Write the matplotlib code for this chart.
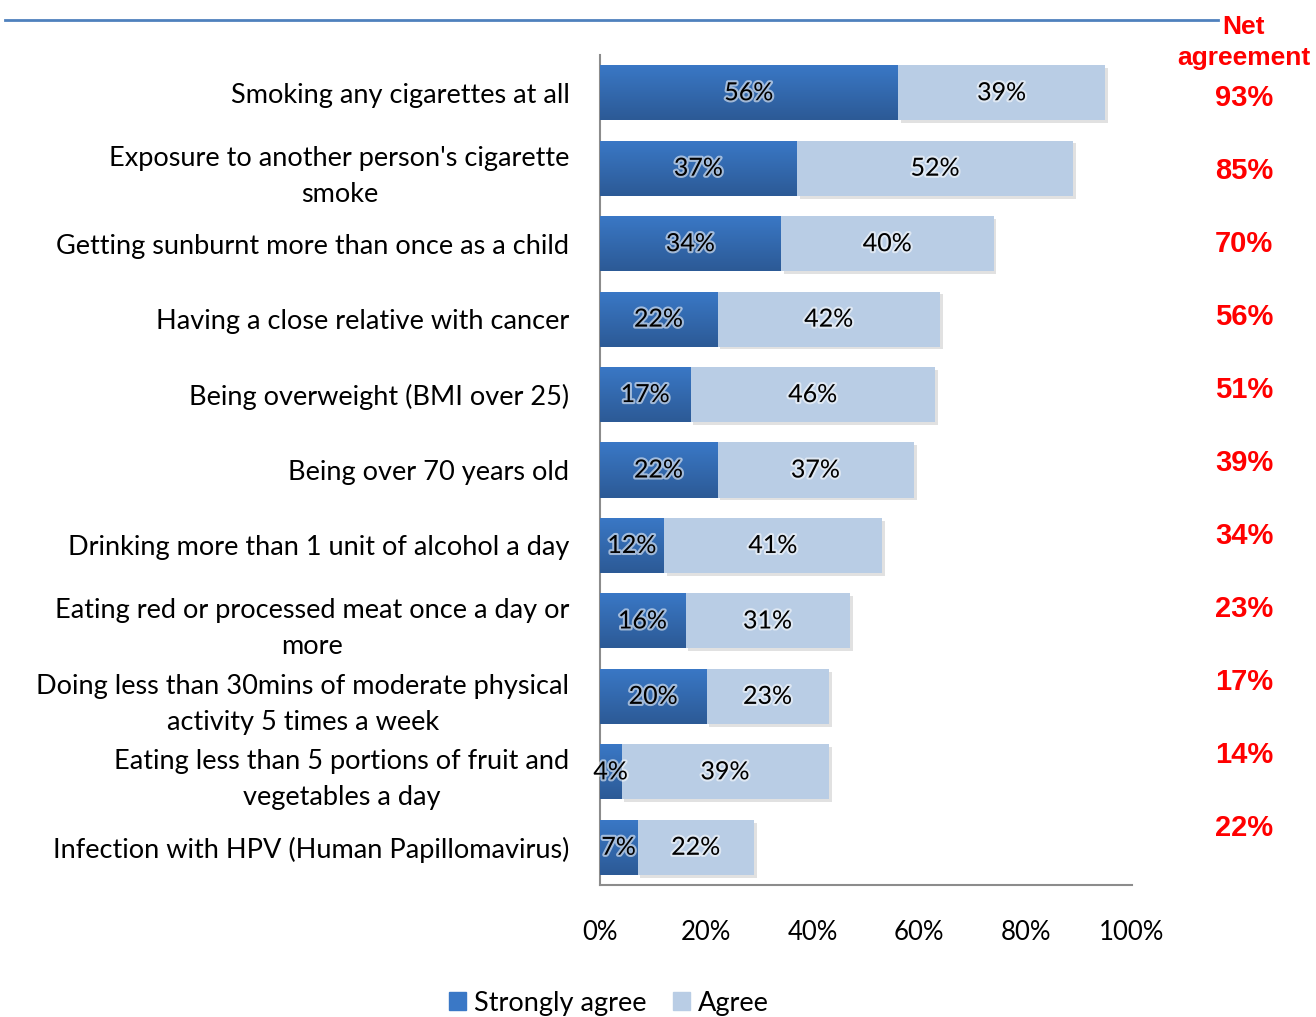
import matplotlib
matplotlib.use("Agg")
import matplotlib.pyplot as plt
import matplotlib.patheffects as pe
import numpy as np

# Survey results: share of respondents agreeing each factor raises cancer risk
factors = [
    "Smoking any cigarettes at all",
    "Exposure to another person's cigarette\nsmoke",
    "Getting sunburnt more than once as a child",
    "Having a close relative with cancer",
    "Being overweight (BMI over 25)",
    "Being over 70 years old",
    "Drinking more than 1 unit of alcohol a day",
    "Eating red or processed meat once a day or\nmore",
    "Doing less than 30mins of moderate physical\nactivity 5 times a week",
    "Eating less than 5 portions of fruit and\nvegetables a day",
    "Infection with HPV (Human Papillomavirus)",
]
strongly_agree = [56, 37, 34, 22, 17, 22, 12, 16, 20, 4, 7]
agree = [39, 52, 40, 42, 46, 37, 41, 31, 23, 39, 22]
net_agreement = [93, 85, 70, 56, 51, 39, 34, 23, 17, 14, 22]
x_ticks = [0, 20, 40, 60, 80, 100]

STRONG = "#3A78C6"
STRONG_DARK = "#2C5A96"
AGREE = "#B9CDE5"
RED = "#FF0000"
BODY_FONT = ["Lato", "DejaVu Sans"]

fig = plt.figure(figsize=(13.16, 10.17), dpi=100)
fig.patch.set_facecolor("white")
ax = fig.add_axes([600 / 1316, 1 - 885 / 1017, 532 / 1316, 830 / 1017])

y = np.arange(len(factors))
h = 0.73
shadow = [pe.SimplePatchShadow(offset=(2, -2), shadow_rgbFace="#AAAAAA", alpha=0.35), pe.Normal()]

# Agree segment sits on top of strongly agree
ax.barh(y, agree, left=strongly_agree, height=h, color=AGREE, zorder=2,
        path_effects=shadow)
bars = ax.barh(y, strongly_agree, height=h, color=STRONG, zorder=3)

# vertical gradient on the dark segments
grad = np.linspace(0, 1, 64).reshape(-1, 1)
cmap = matplotlib.colors.LinearSegmentedColormap.from_list("sa", [STRONG, STRONG_DARK])
for b, yi, v in zip(bars, y, strongly_agree):
    im = ax.imshow(grad, cmap=cmap, aspect="auto", zorder=4,
                   extent=[0, v, yi + h / 2, yi - h / 2])
    im.set_clip_path(b)

glow = [pe.withStroke(linewidth=3, foreground="white", alpha=0.55)]
for yi, s, a in zip(y, strongly_agree, agree):
    ax.text(s / 2, yi, f"{s}%", ha="center", va="center", fontsize=18,
            family=BODY_FONT, color="black", zorder=6, path_effects=glow)
    ax.text(s + a / 2, yi, f"{a}%", ha="center", va="center", fontsize=18,
            family=BODY_FONT, color="black", zorder=6, path_effects=glow)

ax.set_xlim(0, 100)
ax.set_ylim(len(factors) - 0.5, -0.5)
ax.set_xticks(x_ticks)
ax.set_xticklabels([f"{t}%" for t in x_ticks], family=BODY_FONT, fontsize=18.5)
ax.set_yticks(y)
ax.set_yticklabels(factors, family=BODY_FONT, fontsize=19.5, linespacing=1.55,
                   ha="right")
ax.tick_params(axis="both", length=0)
ax.tick_params(axis="x", pad=25)
ax.tick_params(axis="y", pad=22)
for lab in ax.get_yticklabels():
    lab.set_multialignment("center")
for side in ["top", "right"]:
    ax.spines[side].set_visible(False)
for side in ["left", "bottom"]:
    ax.spines[side].set_color("#8C8C8C")
    ax.spines[side].set_linewidth(1.5)

# header rule and net agreement column
fig.add_artist(plt.Line2D([5 / 1316, 1218 / 1316], [1 - 20 / 1017] * 2,
                          color="#4F81BD", linewidth=2))
fig.text(1244 / 1316, 1 - 27 / 1017, "Net", ha="center", va="center",
         color=RED, fontsize=19, fontweight="bold", family="Liberation Sans")
fig.text(1244 / 1316, 1 - 58 / 1017, "agreement", ha="center", va="center",
         color=RED, fontsize=19, fontweight="bold", family="Liberation Sans")
for i, n in enumerate(net_agreement):
    fig.text(1244 / 1316, 1 - (98 + 73 * i) / 1017, f"{n}%", ha="center",
             va="center", color=RED, fontsize=21, fontweight="bold",
             family="Liberation Sans")

# legend at the bottom
handles = [matplotlib.patches.Patch(color=STRONG, label="Strongly agree"),
           matplotlib.patches.Patch(color=AGREE, label="Agree")]
fig.legend(handles=handles, loc="center", bbox_to_anchor=(609 / 1316, 1 - 1003 / 1017),
           ncol=2, frameon=False, handlelength=0.6, handleheight=0.6,
           handletextpad=0.3, columnspacing=1.0,
           prop={"family": BODY_FONT, "size": 19.5})

fig.savefig("out.png", dpi=100)
